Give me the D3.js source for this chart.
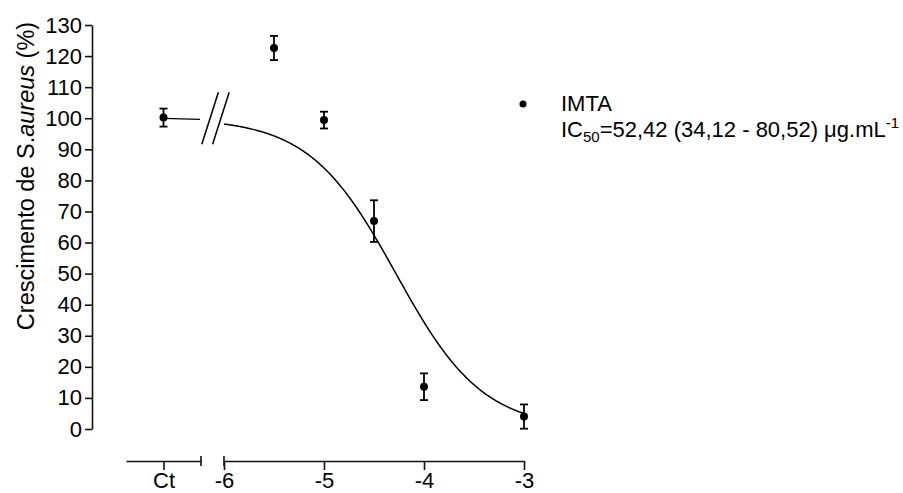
<!DOCTYPE html>
<html>
<head>
<meta charset="utf-8">
<script src="https://cdn.jsdelivr.net/npm/d3@7"></script>
<style>
  html, body { margin: 0; padding: 0; background: #fff; }
  svg { display: block; font-family: "Liberation Sans", Arial, sans-serif; }
</style>
</head>
<body>
<svg id="chart" width="903" height="493"></svg>
<script>
// Control group
const ctLabel = "Ct";
const ctMean = 100.2;
const ctSem = 2.9;

// Dose–response points (log concentration, % growth, SEM)
const logDose = [-5.5, -5, -4.5, -4, -3];
const growth = [122.6, 99.4, 66.9, 13.6, 4.0];
const sem = [3.9, 2.7, 6.7, 4.3, 3.9];

// Axis ticks
const xTicks = [-6, -5, -4, -3];
const yTicks = [0, 10, 20, 30, 40, 50, 60, 70, 80, 90, 100, 110, 120, 130];

// Four-parameter logistic fit (IC50 = 52,42 µg/mL)
const fitTop = 100;
const fitBottom = 0;
const logIC50 = Math.log10(52.42e-6);
const hillSlope = -1;
const seriesName = "IMTA";

const fit = x => fitBottom + (fitTop - fitBottom) / (1 + Math.pow(10, (logIC50 - x) * hillSlope));

const svg = d3.select("#chart");
const axisColor = "#111";
const fontFamily = "Liberation Sans, Arial, sans-serif";
const tickFont = 22;

// Scales
const y = d3.scaleLinear().domain([0, 130]).range([429, 25]);
const xMain = d3.scaleLinear().domain([-6, -3]).range([224, 524]);
const xLeft = d3.scalePoint().domain([ctLabel]).range([126, 201]).padding(0.5);
const axisY = 461;
const yAxisX = 92;

// Y axis
const gy = svg.append("g")
  .attr("transform", `translate(${yAxisX},0)`)
  .call(d3.axisLeft(y).tickValues(yTicks).tickSize(7).tickSizeOuter(0).tickPadding(3));
gy.select(".domain").attr("stroke", axisColor).attr("stroke-width", 1.6);
gy.selectAll(".tick line").attr("stroke", axisColor).attr("stroke-width", 1.6);
gy.selectAll(".tick text").attr("font-size", tickFont).attr("fill", "#000")
  .attr("font-family", fontFamily);

// X axis, control segment
const gxl = svg.append("g")
  .attr("transform", `translate(0,${axisY})`)
  .call(d3.axisBottom(xLeft).tickSize(9).tickSizeOuter(0).tickPadding(2));
// X axis, dose segment
const gxr = svg.append("g")
  .attr("transform", `translate(0,${axisY})`)
  .call(d3.axisBottom(xMain).tickValues(xTicks).tickFormat(d3.format("d")).tickSize(9).tickSizeOuter(0).tickPadding(2));
[gxl, gxr].forEach(g => {
  g.select(".domain").attr("stroke", axisColor).attr("stroke-width", 1.6);
  g.selectAll(".tick line").attr("stroke", axisColor).attr("stroke-width", 1.6);
  g.selectAll(".tick text").attr("font-size", tickFont).attr("fill", "#000")
    .attr("font-family", fontFamily);
});
gxr.selectAll(".tick text").text(d => d < 0 ? "-" + Math.abs(d) : d);

// End caps at the axis break
const capLeft = xLeft.range()[1];
const capRight = xMain.range()[0];
svg.append("line").attr("x1", capLeft).attr("x2", capLeft)
  .attr("y1", axisY - 5).attr("y2", axisY + 5)
  .attr("stroke", axisColor).attr("stroke-width", 1.6);
svg.append("line").attr("x1", capRight).attr("x2", capRight)
  .attr("y1", axisY - 5).attr("y2", axisY + 5)
  .attr("stroke", axisColor).attr("stroke-width", 1.6);

// Y axis title
svg.append("text")
  .attr("transform", `translate(34,${(y(0) + y(130)) / 2 - 51}) rotate(-90)`)
  .attr("text-anchor", "middle")
  .attr("font-size", 23.5)
  .attr("fill", "#000")
  .call(t => {
    t.append("tspan").text("Crescimento de S.");
    t.append("tspan").attr("font-style", "italic").text("aureus");
    t.append("tspan").text(" (%)");
  });

// Fitted curve on the dose segment
const line = d3.line().x(d => xMain(d)).y(d => y(fit(d)));
const samples = d3.range(-6, -3.0001, 0.01).concat([-3]);
svg.append("path")
  .datum(samples)
  .attr("d", line)
  .attr("fill", "none")
  .attr("stroke", "#000")
  .attr("stroke-width", 1.5);

// Plateau of the curve carried over to the control segment
svg.append("line")
  .attr("x1", xLeft(ctLabel)).attr("y1", y(fit(-8)))
  .attr("x2", capLeft - 1).attr("y2", y(fit(-6.7)))
  .attr("stroke", "#000").attr("stroke-width", 1.3);

// Break marks between the segments
const breakX = (capLeft + capRight) / 2 + 3;
const breakY = y(100);
[-5.4, 5.4].forEach(off => {
  svg.append("line")
    .attr("x1", breakX + off - 8.3).attr("y1", breakY + 26)
    .attr("x2", breakX + off + 8.3).attr("y2", breakY - 26)
    .attr("stroke", "#000").attr("stroke-width", 1.5);
});

// Error bars and points
const pts = logDose.map((d, i) => ({ x: xMain(d), m: growth[i], s: sem[i] }));
pts.unshift({ x: xLeft(ctLabel), m: ctMean, s: ctSem });

const eb = svg.append("g").attr("stroke", "#000").attr("stroke-width", 1.8);
pts.forEach(p => {
  eb.append("line").attr("x1", p.x).attr("x2", p.x).attr("y1", y(p.m + p.s)).attr("y2", y(p.m - p.s));
  eb.append("line").attr("x1", p.x - 4).attr("x2", p.x + 4).attr("y1", y(p.m + p.s)).attr("y2", y(p.m + p.s));
  eb.append("line").attr("x1", p.x - 4).attr("x2", p.x + 4).attr("y1", y(p.m - p.s)).attr("y2", y(p.m - p.s));
});
svg.append("g").selectAll("circle").data(pts).join("circle")
  .attr("cx", d => d.x).attr("cy", d => y(d.m)).attr("r", 4).attr("fill", "#000");

// Legend
svg.append("circle").attr("cx", 523).attr("cy", 104).attr("r", 3.5).attr("fill", "#000");
svg.append("text").attr("x", 561).attr("y", 111).attr("font-size", 22).attr("fill", "#000").text(seriesName);
const ic = svg.append("text").attr("x", 561).attr("y", 137).attr("font-size", 22).attr("fill", "#000");
ic.append("tspan").text("IC");
ic.append("tspan").attr("font-size", 15).attr("dy", 5).text("50");
ic.append("tspan").attr("dy", -5).text("=52,42 (34,12 - 80,52) μg.mL");
ic.append("tspan").attr("font-size", 15).attr("dy", -9).text("-1");
</script>
</body>
</html>
